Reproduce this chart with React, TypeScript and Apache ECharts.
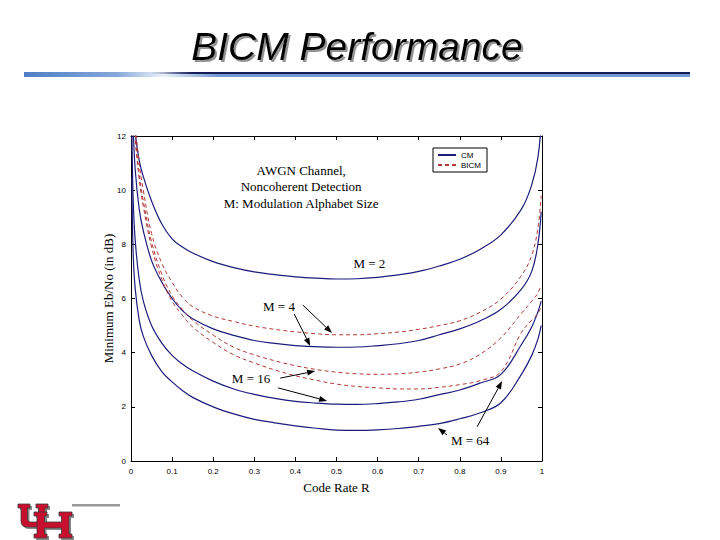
import React, { useEffect, useRef } from "react";
import * as echarts from "echarts";

// Code rate R (x values)
const rates = [0.002, 0.005, 0.01, 0.02, 0.03, 0.05, 0.075, 0.1, 0.125, 0.15, 0.2, 0.25, 0.3, 0.35, 0.4, 0.45, 0.5, 0.55, 0.6, 0.65, 0.7, 0.75, 0.8, 0.85, 0.9, 0.95, 0.975, 0.99, 0.998];

// Minimum Eb/No (dB) curves
const cmM2 = [16, 14, 12.2, 11.1, 10.5, 9.6, 8.75, 8.2, 7.9, 7.68, 7.36, 7.14, 6.98, 6.88, 6.8, 6.75, 6.72, 6.73, 6.78, 6.87, 7.0, 7.2, 7.45, 7.82, 8.35, 9.3, 10.2, 11.2, 12.5];
const cmM4 = [15, 12.5, 10.8, 9.3, 8.5, 7.4, 6.6, 6.0, 5.55, 5.25, 4.88, 4.64, 4.45, 4.34, 4.26, 4.22, 4.2, 4.21, 4.26, 4.33, 4.45, 4.66, 4.88, 5.18, 5.6, 6.35, 7.0, 8.0, 9.2];
const cmM16 = [12.5, 9.8, 8.2, 6.7, 5.9, 5.0, 4.35, 3.9, 3.58, 3.33, 2.95, 2.66, 2.46, 2.31, 2.2, 2.14, 2.1, 2.09, 2.12, 2.18, 2.28, 2.45, 2.62, 2.88, 3.2, 4.3, 4.95, 5.5, 5.9];
const cmM64 = [10.5, 7.8, 6.4, 5.2, 4.6, 3.9, 3.3, 2.92, 2.6, 2.35, 2.0, 1.74, 1.54, 1.41, 1.3, 1.21, 1.14, 1.13, 1.15, 1.2, 1.28, 1.38, 1.56, 1.78, 2.15, 3.2, 3.9, 4.5, 5.0];
const bicmM4 = [18, 15, 12.6, 11.0, 10.0, 8.4, 7.3, 6.6, 6.05, 5.7, 5.35, 5.15, 4.98, 4.86, 4.77, 4.7, 4.66, 4.66, 4.7, 4.76, 4.86, 5.0, 5.18, 5.5, 5.98, 6.85, 7.6, 8.6, 9.8];
const bicmM16 = [17, 14.5, 12.2, 10.6, 9.6, 8.1, 6.9, 6.1, 5.6, 5.2, 4.65, 4.2, 3.92, 3.7, 3.52, 3.38, 3.28, 3.22, 3.2, 3.22, 3.28, 3.4, 3.58, 3.95, 4.55, 5.45, 5.9, 6.2, 6.5];
const bicmM64 = [16.5, 14, 12.0, 10.4, 9.4, 7.9, 6.7, 5.9, 5.38, 4.95, 4.38, 3.92, 3.62, 3.36, 3.15, 2.98, 2.84, 2.75, 2.7, 2.66, 2.66, 2.72, 2.82, 2.97, 3.3, 4.75, 5.2, 5.45, 5.7];

const legendNames = ["CM", "BICM"];
const infoLines = ["AWGN Channel,", "Noncoherent Detection", "M: Modulation Alphabet Size"];

// Annotation anchors in data coordinates [R, dB]
const labelM2 = { text: "M = 2", at: [0.58, 7.31] };
const labelM4 = { text: "M = 4", at: [0.36, 5.72], arrows: [[[0.397, 5.43], [0.436, 4.25]], [[0.418, 5.76], [0.489, 4.73]]] };
const labelM16 = { text: "M = 16", at: [0.292, 3.03], arrows: [[[0.363, 3.06], [0.448, 3.32]], [[0.358, 2.7], [0.477, 2.22]]] };
const labelM64 = { text: "M = 64", at: [0.825, 0.74], arrows: [[[0.769, 0.96], [0.747, 1.22]], [[0.842, 1.26], [0.903, 2.95]]] };

const SERIF = "'Liberation Serif', 'Times New Roman', serif";
const SANS = "'Liberation Sans', Arial, sans-serif";
const CM_COLOR = "#1c1c7c";
const BICM_COLOR = "#b23a3a";

echarts.graphic.registerShape(
  "uhU",
  echarts.graphic.extendPath(
    "M0 0 H12 V4 H9.5 V15 Q9.5 18 12.5 18 H17.5 Q20.5 18 20.5 15 V4 H18 V0 H30 V4 H27 V17 Q27 23 21 23 H9 Q3 23 3 17 V4 H0 Z",
    {}
  )
);
echarts.graphic.registerShape(
  "uhH",
  echarts.graphic.extendPath(
    "M0 0 H13 V4 H10.5 V10 H27.5 V4 H25 V0 H38 V4 H35 V22 H38 V26 H25 V22 H27.5 V16 H10.5 V22 H13 V26 H0 V22 H3 V4 H0 Z",
    {}
  )
);

function pairs(ys: number[]) {
  return rates.map((r, i) => [r, ys[i]]);
}

export default function App() {
  const ref = useRef<HTMLDivElement>(null);
  useEffect(() => {
    const chart = echarts.init(ref.current!, null, { renderer: "svg" });
    const line = (name: string, ys: number[], dashed: boolean) => ({
      type: "line",
      name,
      data: pairs(ys),
      symbol: "none",
      smooth: 0.4,
      clip: true,
      lineStyle: dashed
        ? { color: BICM_COLOR, width: 1, type: [4, 3] }
        : { color: CM_COLOR, width: 1.2, type: "solid" },
      itemStyle: { color: dashed ? BICM_COLOR : CM_COLOR },
      z: dashed ? 3 : 2,
    });
    const axisCommon = {
      axisLine: { show: true, onZero: false, lineStyle: { color: "#000", width: 1 } },
      axisTick: { show: true, inside: true, length: 4, lineStyle: { color: "#000" } },
      splitLine: { show: false },
    };
    chart.setOption({
      animation: false,
      backgroundColor: "#fff",
      grid: { left: 131, right: 178, top: 136, bottom: 79, containLabel: false },
      legend: {
        data: legendNames,
        orient: "vertical",
        left: 433,
        top: 148,
        itemWidth: 18,
        itemHeight: 8,
        itemGap: 2,
        padding: [3, 6, 3, 4],
        backgroundColor: "#fff",
        borderColor: "#000",
        borderWidth: 1,
        itemStyle: { opacity: 0 },
        textStyle: { fontSize: 8, fontFamily: SANS, color: "#000" },
      },
      xAxis: [
        {
          type: "value",
          min: 0,
          max: 1,
          interval: 0.1,
          position: "bottom",
          name: "Code Rate R",
          nameLocation: "middle",
          nameGap: 20,
          nameMoveOverlap: false,
          nameTextStyle: { fontFamily: SERIF, fontSize: 13, color: "#000" },
          axisLabel: { fontSize: 8, fontFamily: SANS, color: "#000", margin: 6 },
          ...axisCommon,
        },
        {
          type: "value",
          min: 0,
          max: 1,
          interval: 0.1,
          position: "top",
          axisLabel: { show: false },
          ...axisCommon,
        },
      ],
      yAxis: [
        {
          type: "value",
          min: 0,
          max: 12,
          interval: 2,
          position: "left",
          name: "Minimum Eb/No (in dB)",
          nameLocation: "middle",
          nameRotate: 90,
          nameGap: 16,
          nameMoveOverlap: false,
          nameTextStyle: { fontFamily: SERIF, fontSize: 13, color: "#000" },
          axisLabel: { fontSize: 8, fontFamily: SANS, color: "#000", margin: 5 },
          ...axisCommon,
        },
        {
          type: "value",
          min: 0,
          max: 12,
          interval: 2,
          position: "right",
          axisLabel: { show: false },
          ...axisCommon,
        },
      ],
      series: [
        line("CM", cmM2, false),
        line("CM", cmM4, false),
        line("CM", cmM16, false),
        line("CM", cmM64, false),
        line("BICM", bicmM4, true),
        line("BICM", bicmM16, true),
        line("BICM", bicmM64, true),
      ],
    });

    const px = (p: number[]) => chart.convertToPixel({ gridIndex: 0 }, p) as number[];
    const g: any[] = [];

    // Title with shadow
    g.push({
      type: "text",
      x: 357,
      y: 46,
      z: 11,
      style: {
        text: "BICM Performance",
        font: `italic 39px ${SANS}`,
        fill: "#000",
        align: "center",
        verticalAlign: "middle",
        textShadowColor: "rgba(120,120,120,0.8)",
        textShadowBlur: 1,
        textShadowOffsetX: 2,
        textShadowOffsetY: 2,
      },
    });
    // Title underline bar
    g.push({
      type: "rect",
      shape: { x: 24, y: 72, width: 666, height: 5 },
      style: {
        fill: new echarts.graphic.LinearGradient(0, 0, 1, 0, [
          { offset: 0, color: "#4e7ec4" },
          { offset: 0.14, color: "#86a8da" },
          { offset: 0.21, color: "#eef3fb" },
          { offset: 0.29, color: "#7398d2" },
          { offset: 1, color: "#7398d2" },
        ]),
      },
    });
    g.push({
      type: "rect",
      shape: { x: 150, y: 72, width: 540, height: 2 },
      style: {
        fill: new echarts.graphic.LinearGradient(0, 0, 1, 0, [
          { offset: 0, color: "rgba(16,24,80,0)" },
          { offset: 0.08, color: "#141c58" },
          { offset: 1, color: "#141c58" },
        ]),
      },
    });

    // Info text
    const info = px([0.414, 10.12]);
    infoLines.forEach((t, i) => {
      g.push({
        type: "text",
        x: info[0],
        y: info[1] + (i - 1) * 16.5,
        z: 20,
        style: { text: t, font: `13px ${SERIF}`, fill: "#000", align: "center", verticalAlign: "middle" },
      });
    });

    const addLabel = (lab: any) => {
      const p = px(lab.at);
      g.push({
        type: "text",
        x: p[0],
        y: p[1],
        z: 20,
        style: { text: lab.text, font: `13px ${SERIF}`, fill: "#000", align: "center", verticalAlign: "middle" },
      });
      (lab.arrows || []).forEach((a: number[][]) => {
        const p0 = px(a[0]);
        const p1 = px(a[1]);
        const dx = p1[0] - p0[0];
        const dy = p1[1] - p0[1];
        const len = Math.hypot(dx, dy) || 1;
        const ux = dx / len;
        const uy = dy / len;
        const hl = 8;
        const hw = 3;
        const bx = p1[0] - ux * hl;
        const by = p1[1] - uy * hl;
        g.push({
          type: "line",
          z: 20,
          shape: { x1: p0[0], y1: p0[1], x2: bx, y2: by },
          style: { stroke: "#000", lineWidth: 1 },
        });
        g.push({
          type: "polygon",
          z: 20,
          shape: {
            points: [
              [p1[0], p1[1]],
              [bx - uy * hw, by + ux * hw],
              [bx + uy * hw, by - ux * hw],
            ],
          },
          style: { fill: "#000" },
        });
      });
    };
    [labelM2, labelM4, labelM16, labelM64].forEach(addLabel);

    // UH logo
    const logoStyle = { fill: "#c8102e", stroke: "#3a3a3a", lineWidth: 0.8 };
    g.push({ type: "uhU", x: 20, y: 506, z: 5, style: { fill: "#8a8a8a" } });
    g.push({ type: "uhU", x: 18, y: 504, z: 6, style: logoStyle });
    g.push({ type: "uhH", x: 36, y: 514, z: 7, style: { fill: "#8a8a8a" } });
    g.push({ type: "uhH", x: 34, y: 512, z: 8, style: logoStyle });
    g.push({ type: "rect", shape: { x: 72, y: 504, width: 48, height: 2.5 }, style: { fill: "#9a9a9a" } });

    chart.setOption({ graphic: g });
    return () => chart.dispose();
  }, []);
  return <div ref={ref} style={{ position: "absolute", left: 0, top: 0, width: 720, height: 540 }} />;
}
